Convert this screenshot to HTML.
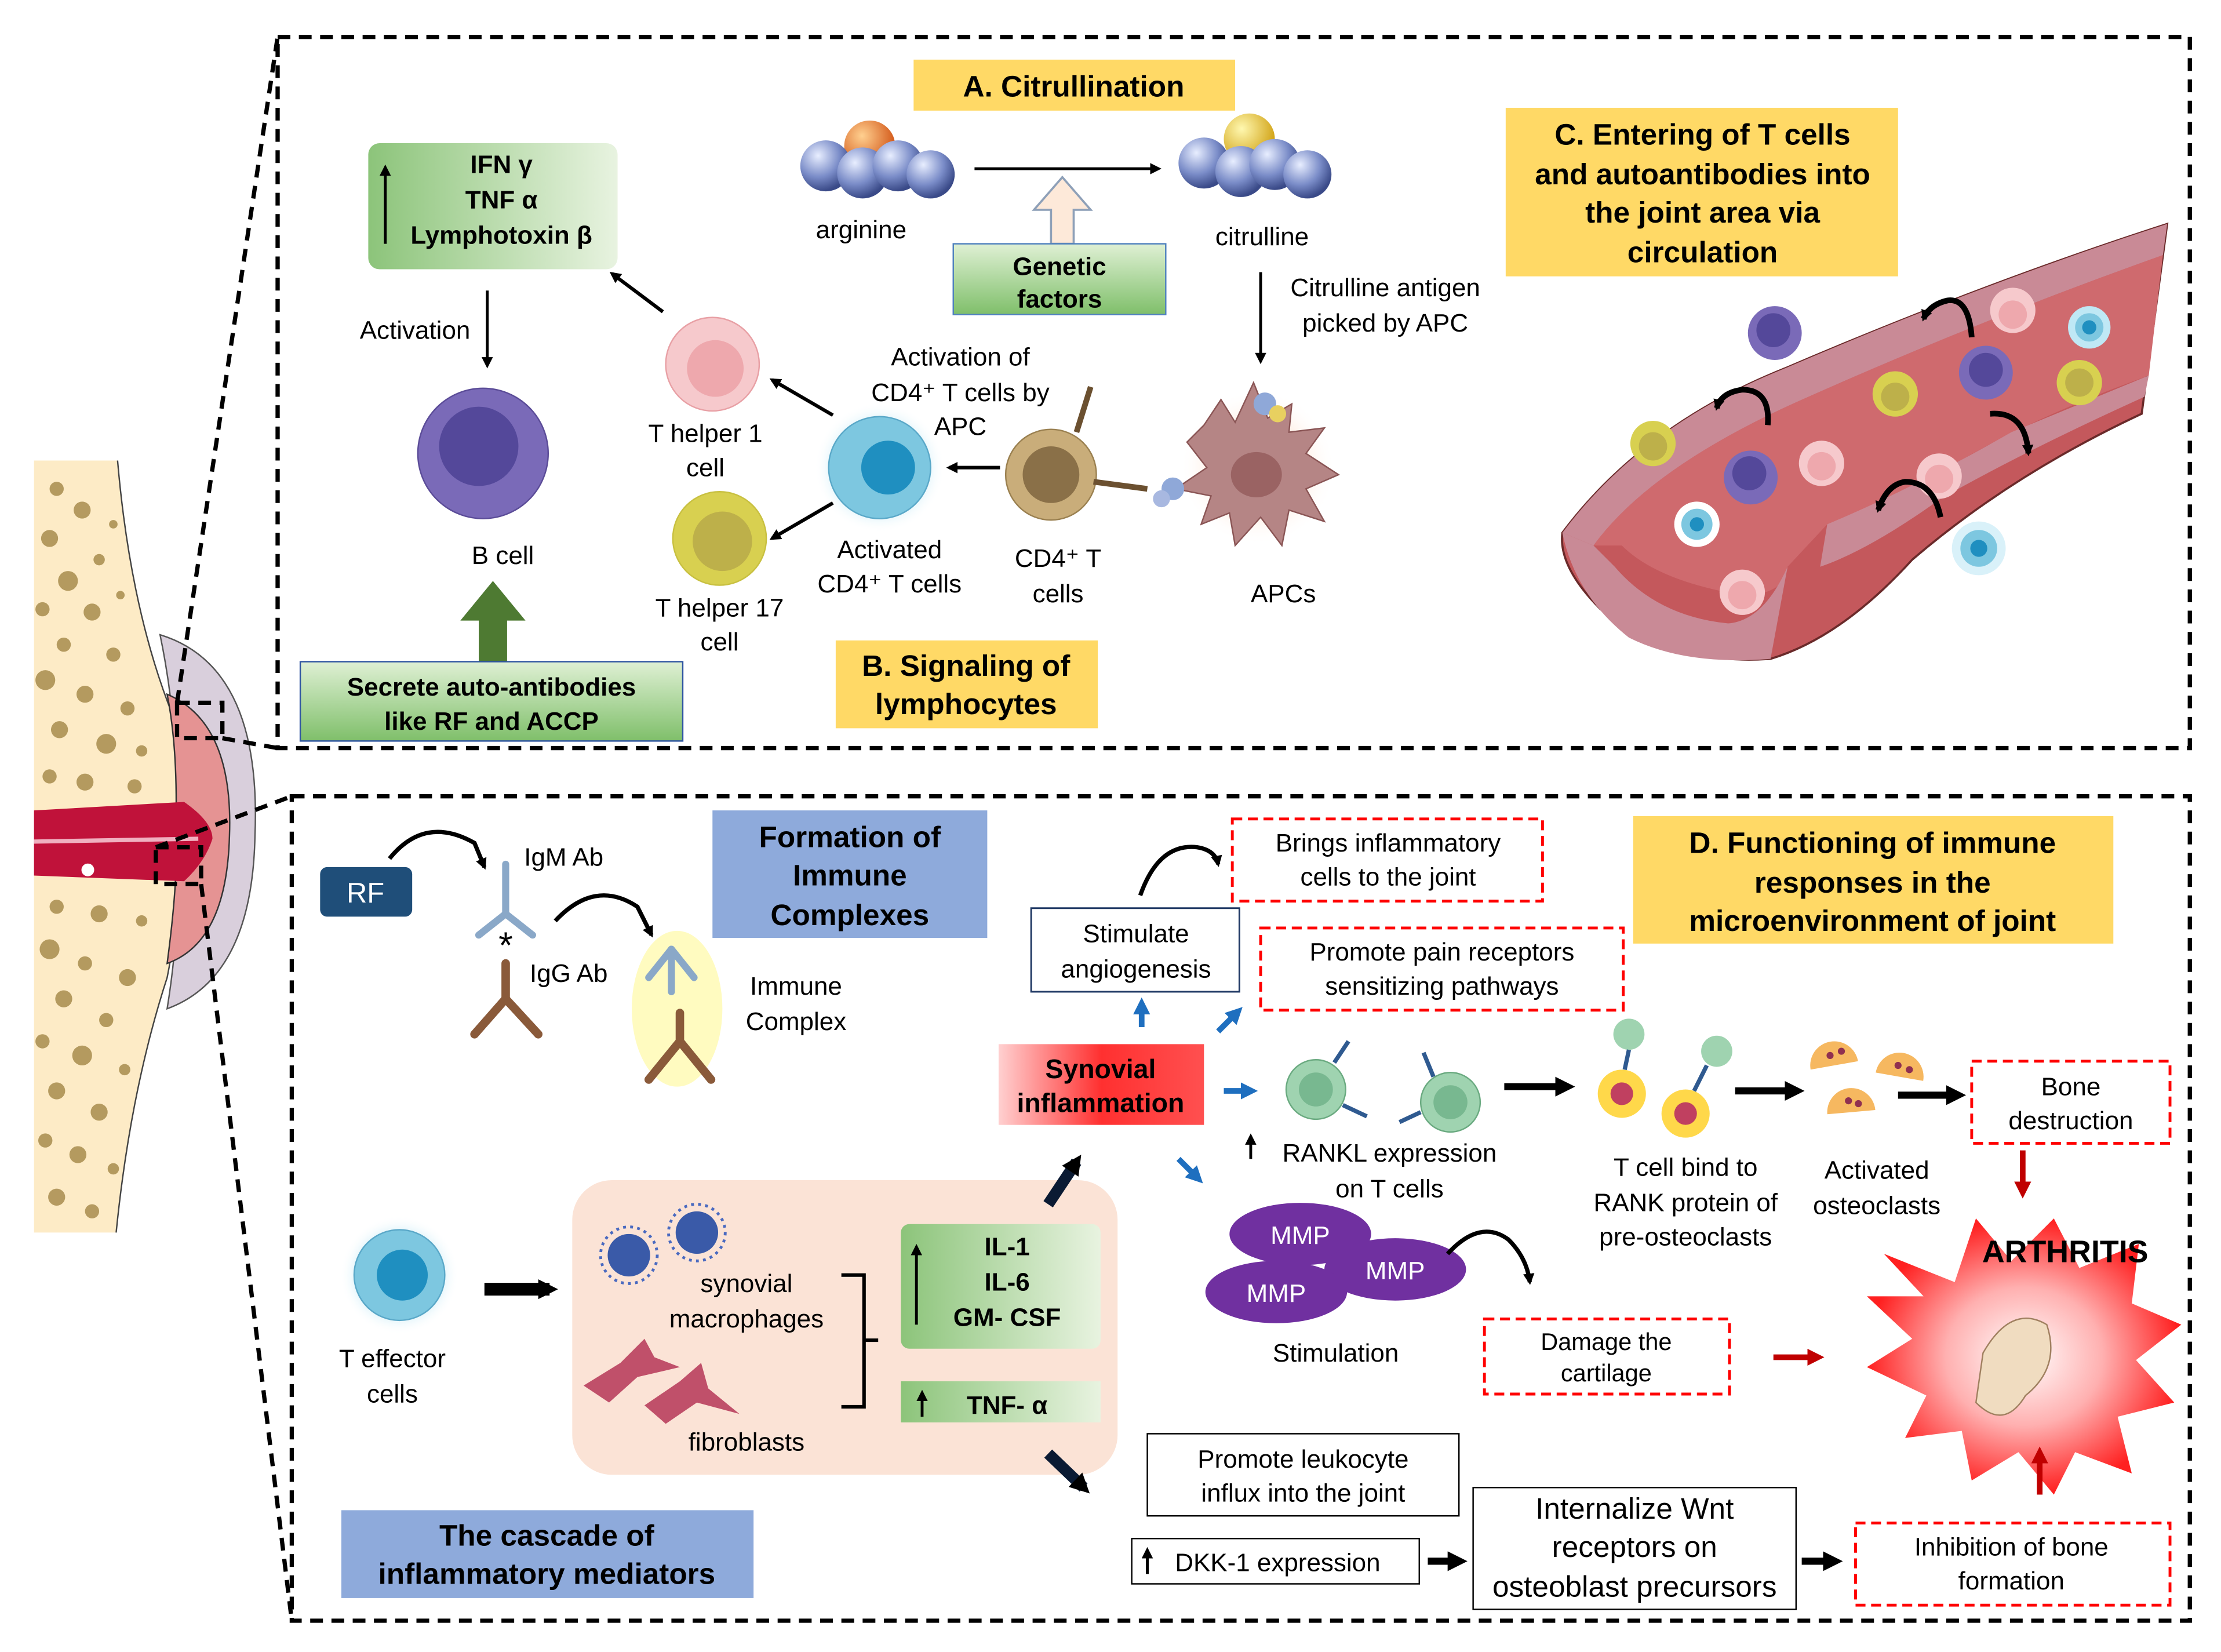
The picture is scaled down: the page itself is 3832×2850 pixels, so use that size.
<!DOCTYPE html>
<html><head><meta charset="utf-8"><style>
html,body{margin:0;padding:0;background:#fff;}
svg{display:block;}
text{font-family:"Liberation Sans",Arial,sans-serif;}
</style></head><body>
<svg width="3832" height="2850" viewBox="0 0 1568 1166" xmlns="http://www.w3.org/2000/svg">
<defs>
<linearGradient id="gg" x1="0" y1="0" x2="1" y2="0"><stop offset="0" stop-color="#8cc47a"/><stop offset="1" stop-color="#e8f3e0"/></linearGradient>
<linearGradient id="gv" x1="0" y1="1" x2="0" y2="0"><stop offset="0" stop-color="#7fbf6a"/><stop offset="1" stop-color="#dff0d4"/></linearGradient>
<linearGradient id="rg" x1="0" y1="0" x2="1" y2="0"><stop offset="0" stop-color="#ffd0d0"/><stop offset="0.5" stop-color="#ff3030"/><stop offset="1" stop-color="#ff5050"/></linearGradient>
<radialGradient id="star" cx="0.5" cy="0.5" r="0.5"><stop offset="0" stop-color="#fff"/><stop offset="0.5" stop-color="#ffb0b0"/><stop offset="1" stop-color="#ff2020"/></radialGradient>
<radialGradient id="ball" cx="0.35" cy="0.3" r="0.7"><stop offset="0" stop-color="#e8eeff"/><stop offset="0.6" stop-color="#7a8cc8"/><stop offset="1" stop-color="#3a4a88"/></radialGradient>
<radialGradient id="ballo" cx="0.35" cy="0.3" r="0.7"><stop offset="0" stop-color="#ffd090"/><stop offset="1" stop-color="#d05010"/></radialGradient>
<radialGradient id="bally" cx="0.35" cy="0.3" r="0.7"><stop offset="0" stop-color="#fff8b0"/><stop offset="1" stop-color="#d0a010"/></radialGradient>
<radialGradient id="glowb" cx="0.5" cy="0.5" r="0.5"><stop offset="0.6" stop-color="#bfe8f5"/><stop offset="1" stop-color="#ffffff" stop-opacity="0"/></radialGradient>
<radialGradient id="glowo" cx="0.5" cy="0.5" r="0.5"><stop offset="0.3" stop-color="#ffb080"/><stop offset="1" stop-color="#ffffff" stop-opacity="0"/></radialGradient>
<marker id="ah" markerWidth="8" markerHeight="8" refX="6" refY="4" orient="auto" markerUnits="userSpaceOnUse"><path d="M0,0 L8,4 L0,8 z" fill="#000"/></marker>
<marker id="ahb" markerWidth="14" markerHeight="14" refX="8" refY="7" orient="auto" markerUnits="userSpaceOnUse"><path d="M0,0 L14,7 L0,14 z" fill="#000"/></marker>
<marker id="ahbl" markerWidth="12" markerHeight="12" refX="6" refY="6" orient="auto" markerUnits="userSpaceOnUse"><path d="M0,0 L12,6 L0,12 z" fill="#1f6fbf"/></marker>
<marker id="ahr" markerWidth="12" markerHeight="12" refX="6" refY="6" orient="auto" markerUnits="userSpaceOnUse"><path d="M0,0 L12,6 L0,12 z" fill="#c00000"/></marker>
</defs>

<!-- Bone -->
<g>
<path d="M24,325 L83,325 Q92,430 122,505 Q130,545 124,570 L24,575 Z" fill="#fdebc6"/>
<path d="M83,325 Q92,430 122,505 Q130,545 124,570" fill="none" stroke="#444" stroke-width="1"/>
<path d="M24,870 L82,870 Q92,770 118,690 Q126,650 124,622 L24,615 Z" fill="#fdebc6"/>
<path d="M82,870 Q92,770 118,690 Q126,650 124,622" fill="none" stroke="#444" stroke-width="1"/>
<path d="M113,448 Q185,470 180,590 Q178,690 118,712 Q128,650 124,600 Q128,520 113,448Z" fill="#d9cfdc" stroke="#555" stroke-width="1"/>
<path d="M118,490 Q165,510 162,590 Q160,665 118,680 Q126,620 124,590 Q126,530 118,490Z" fill="#e59393" stroke="#333" stroke-width="1"/>
<path d="M24,572 L130,566 Q150,580 150,592 Q145,608 130,622 L24,618 Z" fill="#c0123a"/>
<path d="M24,594 L140,592" stroke="#f0b0c0" stroke-width="3"/>
<circle cx="62" cy="614" r="5" fill="#fff" stroke="#c0123a"/>
<g fill="#a88c4e" opacity="0.85">
<circle cx="40" cy="345" r="5"/><circle cx="58" cy="360" r="6"/><circle cx="35" cy="380" r="6"/><circle cx="70" cy="395" r="4"/><circle cx="48" cy="410" r="7"/><circle cx="30" cy="430" r="5"/><circle cx="65" cy="432" r="6"/><circle cx="45" cy="455" r="5"/><circle cx="80" cy="462" r="5"/><circle cx="32" cy="480" r="7"/><circle cx="60" cy="490" r="6"/><circle cx="90" cy="500" r="5"/><circle cx="42" cy="515" r="6"/><circle cx="75" cy="525" r="7"/><circle cx="100" cy="530" r="4"/><circle cx="35" cy="548" r="5"/><circle cx="60" cy="552" r="6"/><circle cx="95" cy="555" r="5"/><circle cx="80" cy="370" r="3"/><circle cx="85" cy="420" r="3"/>
<circle cx="40" cy="640" r="5"/><circle cx="70" cy="645" r="6"/><circle cx="100" cy="650" r="4"/><circle cx="35" cy="670" r="7"/><circle cx="60" cy="680" r="5"/><circle cx="90" cy="690" r="6"/><circle cx="45" cy="705" r="6"/><circle cx="75" cy="720" r="5"/><circle cx="30" cy="735" r="5"/><circle cx="58" cy="745" r="7"/><circle cx="88" cy="755" r="4"/><circle cx="40" cy="770" r="6"/><circle cx="70" cy="785" r="6"/><circle cx="32" cy="805" r="5"/><circle cx="55" cy="815" r="6"/><circle cx="80" cy="825" r="4"/><circle cx="40" cy="845" r="6"/><circle cx="65" cy="855" r="5"/>
</g>
</g>
<!-- zoom boxes & lines -->
<g fill="none" stroke="#000" stroke-width="3" stroke-dasharray="9,6">
<rect x="125" y="496" width="32" height="25"/>
<rect x="110" y="598" width="32" height="26"/>
<line x1="125" y1="496" x2="196" y2="26"/>
<line x1="157" y1="521" x2="196" y2="528"/>
<line x1="110" y1="598" x2="206" y2="562"/>
<line x1="142" y1="624" x2="206" y2="1144"/>
<rect x="196" y="26" width="1350" height="502"/>
<rect x="206" y="562" width="1340" height="582"/>
</g>

<!-- ===== TOP PANEL ===== -->
<rect x="645" y="42" width="227" height="36" fill="#ffd966"/>
<text x="758" y="68" font-size="21" font-weight="bold" text-anchor="middle">A. Citrullination</text>

<!-- arginine -->
<circle cx="614" cy="103" r="18" fill="url(#ballo)"/>
<circle cx="583" cy="117" r="18" fill="url(#ball)"/><circle cx="609" cy="122" r="18" fill="url(#ball)"/><circle cx="634" cy="117" r="18" fill="url(#ball)"/><circle cx="657" cy="123" r="17" fill="url(#ball)"/>
<text x="608" y="168" font-size="18" text-anchor="middle">arginine</text>
<circle cx="882" cy="98" r="18" fill="url(#bally)"/>
<circle cx="850" cy="115" r="18" fill="url(#ball)"/><circle cx="876" cy="121" r="18" fill="url(#ball)"/><circle cx="900" cy="116" r="18" fill="url(#ball)"/><circle cx="923" cy="123" r="17" fill="url(#ball)"/>
<text x="891" y="173" font-size="18" text-anchor="middle">citrulline</text>
<line x1="688" y1="119" x2="818" y2="119" stroke="#000" stroke-width="2" marker-end="url(#ah)"/>
<path d="M742,172 L742,148 L730,148 L750,125 L770,148 L758,148 L758,172Z" fill="#fde9d9" stroke="#8ea0b8" stroke-width="1.5"/>
<rect x="673" y="172" width="150" height="50" fill="url(#gv)" stroke="#4f81bd" stroke-width="1"/>
<text x="748" y="194" font-size="18" font-weight="bold" text-anchor="middle">Genetic</text>
<text x="748" y="217" font-size="18" font-weight="bold" text-anchor="middle">factors</text>

<line x1="890" y1="192" x2="890" y2="255" stroke="#000" stroke-width="2" marker-end="url(#ah)"/>
<text x="978" y="209" font-size="18" text-anchor="middle">Citrulline antigen</text>
<text x="978" y="234" font-size="18" text-anchor="middle">picked by APC</text>

<!-- APC -->
<circle cx="888" cy="330" r="55" fill="url(#glowo)" opacity="0.6"/>
<path d="M850,300 L862,282 L872,298 L885,270 L895,295 L912,285 L910,305 L935,302 L922,320 L945,335 L922,345 L935,368 L910,360 L905,385 L890,365 L872,385 L868,362 L848,370 L855,350 L830,345 L852,330 L838,312Z" fill="#b58585" stroke="#8a5555"/>
<ellipse cx="887" cy="335" rx="18" ry="16" fill="#9a6363"/>
<text x="906" y="425" font-size="18" text-anchor="middle">APCs</text>
<!-- CD4 T -->
<circle cx="742" cy="335" r="32" fill="#c9ad7a" stroke="#9a8050"/>
<circle cx="742" cy="335" r="20" fill="#8a7048"/>
<line x1="772" y1="340" x2="810" y2="345" stroke="#6b5030" stroke-width="4"/>
<line x1="760" y1="305" x2="770" y2="273" stroke="#6b5030" stroke-width="4"/>
<circle cx="828" cy="345" r="8" fill="#8fa8d8"/><circle cx="820" cy="352" r="6" fill="#a8b8e0"/>
<circle cx="893" cy="285" r="8" fill="#8fa8d8"/><circle cx="902" cy="292" r="6" fill="#e8d060"/>
<text x="747" y="400" font-size="18" text-anchor="middle">CD4⁺ T</text>
<text x="747" y="425" font-size="18" text-anchor="middle">cells</text>
<line x1="706" y1="330" x2="670" y2="330" stroke="#000" stroke-width="2.5" marker-end="url(#ah)"/>
<!-- Activated CD4 -->
<circle cx="621" cy="330" r="46" fill="url(#glowb)"/>
<circle cx="621" cy="330" r="36" fill="#7dc7e0" stroke="#5aa8c8"/>
<circle cx="627" cy="330" r="19" fill="#1f8fc0"/>
<text x="628" y="394" font-size="18" text-anchor="middle">Activated</text>
<text x="628" y="418" font-size="18" text-anchor="middle">CD4⁺ T cells</text>
<text x="678" y="258" font-size="18" text-anchor="middle">Activation  of</text>
<text x="678" y="283" font-size="18" text-anchor="middle">CD4⁺ T cells  by</text>
<text x="678" y="307" font-size="18" text-anchor="middle">APC</text>
<line x1="588" y1="293" x2="545" y2="268" stroke="#000" stroke-width="2.5" marker-end="url(#ah)"/>
<line x1="588" y1="355" x2="545" y2="380" stroke="#000" stroke-width="2.5" marker-end="url(#ah)"/>
<!-- Th1 -->
<circle cx="503" cy="257" r="33" fill="#f6c9cc" stroke="#e8a0a5"/>
<circle cx="505" cy="260" r="20" fill="#eea8ad"/>
<text x="498" y="312" font-size="18" text-anchor="middle">T helper  1</text>
<text x="498" y="336" font-size="18" text-anchor="middle">cell</text>
<!-- Th17 -->
<circle cx="508" cy="380" r="33" fill="#d8d050" stroke="#c8c040"/>
<circle cx="510" cy="382" r="21" fill="#bdb04a"/>
<text x="508" y="435" font-size="18" text-anchor="middle">T helper  17</text>
<text x="508" y="459" font-size="18" text-anchor="middle">cell</text>
<line x1="468" y1="220" x2="432" y2="193" stroke="#000" stroke-width="2.5" marker-end="url(#ah)"/>
<!-- IFN box -->
<rect x="260" y="101" width="176" height="89" rx="8" fill="url(#gg)"/>
<line x1="272" y1="172" x2="272" y2="118" stroke="#000" stroke-width="2" marker-end="url(#ah)"/>
<text x="354" y="122" font-size="18" font-weight="bold" text-anchor="middle">IFN γ</text>
<text x="354" y="147" font-size="18" font-weight="bold" text-anchor="middle">TNF α</text>
<text x="354" y="172" font-size="18" font-weight="bold" text-anchor="middle">Lymphotoxin β</text>
<line x1="344" y1="205" x2="344" y2="258" stroke="#000" stroke-width="2" marker-end="url(#ah)"/>
<text x="293" y="239" font-size="18" text-anchor="middle">Activation</text>
<!-- B cell -->
<circle cx="341" cy="320" r="46" fill="#7a6ab8" stroke="#5b4c98"/>
<circle cx="338" cy="315" r="28" fill="#54489a"/>
<text x="355" y="398" font-size="18" text-anchor="middle">B cell</text>
<path d="M338,467 L338,438 L325,438 L348,410 L371,438 L358,438 L358,467Z" fill="#4e7a32"/>
<rect x="212" y="467" width="270" height="56" fill="url(#gv)" stroke="#2f55a0" stroke-width="1"/>
<text x="347" y="491" font-size="18" font-weight="bold" text-anchor="middle">Secrete auto-antibodies</text>
<text x="347" y="515" font-size="18" font-weight="bold" text-anchor="middle">like RF and ACCP</text>
<rect x="590" y="452" width="185" height="62" fill="#ffd966"/>
<text x="682" y="477" font-size="21" font-weight="bold" text-anchor="middle">B. Signaling of</text>
<text x="682" y="504" font-size="21" font-weight="bold" text-anchor="middle">lymphocytes</text>

<!-- C box -->
<rect x="1063" y="76" width="277" height="119" fill="#ffd966"/>
<text x="1202" y="102" font-size="21" font-weight="bold" text-anchor="middle">C. Entering of T cells</text>
<text x="1202" y="130" font-size="21" font-weight="bold" text-anchor="middle">and autoantibodies into</text>
<text x="1202" y="157" font-size="21" font-weight="bold" text-anchor="middle">the joint area via</text>
<text x="1202" y="185" font-size="21" font-weight="bold" text-anchor="middle">circulation</text>

<!-- vessel -->
<path d="M1530,158 L1512,292 Q1420,335 1350,395 Q1300,450 1250,465 Q1180,470 1130,430 Q1100,400 1103,376 Q1160,300 1260,260 Q1400,200 1530,158Z" fill="#c4585c" stroke="#6a2a2a" stroke-width="1.5"/>
<path d="M1103,376 Q1160,300 1260,260 Q1400,200 1530,158 L1527,180 Q1400,225 1270,283 Q1165,330 1125,385Z" fill="#c98a96"/>
<path d="M1125,385 Q1165,330 1270,283 Q1400,225 1527,180 L1517,265 Q1420,300 1360,340 Q1320,365 1290,370 L1262,400 Q1260,420 1230,420 Q1170,410 1145,385Z" fill="#cf6a6e"/>
<path d="M1290,370 Q1350,345 1420,305 L1517,265 L1514,280 Q1430,318 1370,352 Q1320,388 1285,400Z" fill="#c98a96"/>
<path d="M1103,376 Q1112,420 1150,450 Q1190,470 1250,465 L1262,400 Q1245,438 1220,440 Q1170,435 1140,400 L1125,385Z" fill="#c98a96"/>
<g>
<circle cx="1253" cy="235" r="19" fill="#7a6ab8"/><circle cx="1252" cy="233" r="12" fill="#54489a"/>
<circle cx="1421" cy="219" r="16" fill="#f6c9cc"/><circle cx="1421" cy="222" r="10" fill="#eea8ad"/>
<circle cx="1475" cy="231" r="15" fill="#bfe8f5"/><circle cx="1475" cy="231" r="10" fill="#7dc7e0"/><circle cx="1475" cy="231" r="5" fill="#1f8fc0"/>
<circle cx="1402" cy="263" r="19" fill="#7a6ab8"/><circle cx="1402" cy="261" r="12" fill="#54489a"/>
<circle cx="1338" cy="278" r="16" fill="#d8d050"/><circle cx="1338" cy="280" r="10" fill="#bdb04a"/>
<circle cx="1468" cy="270" r="16" fill="#d8d050"/><circle cx="1468" cy="270" r="10" fill="#bdb04a"/>
<circle cx="1167" cy="313" r="16" fill="#d8d050"/><circle cx="1167" cy="315" r="10" fill="#bdb04a"/>
<circle cx="1236" cy="337" r="19" fill="#7a6ab8"/><circle cx="1235" cy="334" r="12" fill="#54489a"/>
<circle cx="1286" cy="327" r="16" fill="#f6c9cc"/><circle cx="1286" cy="329" r="10" fill="#eea8ad"/>
<circle cx="1369" cy="336" r="16" fill="#f6c9cc"/><circle cx="1369" cy="338" r="10" fill="#eea8ad"/>
<circle cx="1198" cy="370" r="16" fill="#fff"/><circle cx="1198" cy="370" r="11" fill="#7dc7e0"/><circle cx="1198" cy="370" r="5" fill="#1f8fc0"/>
<circle cx="1230" cy="418" r="16" fill="#f6c9cc"/><circle cx="1230" cy="420" r="10" fill="#eea8ad"/>
<circle cx="1397" cy="387" r="19" fill="#bfe8f5" opacity="0.6"/><circle cx="1397" cy="387" r="13" fill="#7dc7e0"/><circle cx="1397" cy="387" r="6" fill="#1f8fc0"/>
</g>
<g fill="none" stroke="#000" stroke-width="4">
<path d="M1248,300 Q1250,275 1230,275 Q1215,277 1212,288" marker-end="url(#ah)"/>
<path d="M1392,238 Q1390,210 1375,212 Q1362,215 1358,225" marker-end="url(#ah)"/>
<path d="M1370,365 Q1365,340 1345,340 Q1332,342 1326,360" marker-end="url(#ah)"/>
<path d="M1405,292 Q1430,290 1432,320" marker-end="url(#ah)"/>
</g>

<!-- ===== BOTTOM PANEL ===== -->
<rect x="226" y="612" width="65" height="35" rx="5" fill="#1f4e79"/>
<text x="258" y="637" font-size="20" fill="#fff" text-anchor="middle">RF</text>
<path d="M275,606 Q300,575 335,595 L342,612" fill="none" stroke="#000" stroke-width="3" marker-end="url(#ah)"/>
<path d="M392,650 Q420,620 450,640 L460,660" fill="none" stroke="#000" stroke-width="3" marker-end="url(#ah)"/>
<text x="370" y="611" font-size="18">IgM Ab</text>
<text x="374" y="693" font-size="18">IgG Ab</text>
<!-- antibodies -->
<g stroke-linecap="round">
<line x1="357" y1="610" x2="357" y2="645" stroke="#8aa8c8" stroke-width="5"/>
<line x1="357" y1="645" x2="338" y2="660" stroke="#8aa8c8" stroke-width="5"/><line x1="357" y1="645" x2="376" y2="660" stroke="#8aa8c8" stroke-width="5"/>
<line x1="357" y1="680" x2="357" y2="705" stroke="#8a5a3a" stroke-width="6"/>
<line x1="357" y1="705" x2="335" y2="730" stroke="#8a5a3a" stroke-width="6"/><line x1="357" y1="705" x2="380" y2="730" stroke="#8a5a3a" stroke-width="6"/>
</g>
<text x="357" y="676" font-size="26" text-anchor="middle">*</text>
<ellipse cx="478" cy="712" rx="32" ry="55" fill="#fffab0" opacity="0.8"/>
<g stroke-linecap="round">
<line x1="474" y1="670" x2="474" y2="700" stroke="#8aa8c8" stroke-width="5"/>
<line x1="474" y1="670" x2="458" y2="690" stroke="#8aa8c8" stroke-width="5"/><line x1="474" y1="670" x2="490" y2="690" stroke="#8aa8c8" stroke-width="5"/>
<line x1="480" y1="715" x2="480" y2="735" stroke="#8a5a3a" stroke-width="6"/>
<line x1="480" y1="735" x2="458" y2="762" stroke="#8a5a3a" stroke-width="6"/><line x1="480" y1="735" x2="502" y2="762" stroke="#8a5a3a" stroke-width="6"/>
</g>
<text x="562" y="702" font-size="18" text-anchor="middle">Immune</text>
<text x="562" y="727" font-size="18" text-anchor="middle">Complex</text>
<rect x="503" y="572" width="194" height="90" fill="#8eaadb"/>
<text x="600" y="598" font-size="21" font-weight="bold" text-anchor="middle">Formation of</text>
<text x="600" y="625" font-size="21" font-weight="bold" text-anchor="middle">Immune</text>
<text x="600" y="653" font-size="21" font-weight="bold" text-anchor="middle">Complexes</text>

<!-- T effector -->
<circle cx="282" cy="900" r="42" fill="url(#glowb)"/>
<circle cx="282" cy="900" r="32" fill="#7dc7e0" stroke="#5aa8c8"/>
<circle cx="284" cy="900" r="18" fill="#1f8fc0"/>
<text x="277" y="965" font-size="18" text-anchor="middle">T effector</text>
<text x="277" y="990" font-size="18" text-anchor="middle">cells</text>
<line x1="342" y1="910" x2="388" y2="910" stroke="#000" stroke-width="9" marker-end="url(#ahb)"/>
<rect x="404" y="833" width="385" height="208" rx="28" fill="#fbe3d6"/>
<g fill="#3a5aa8"><circle cx="444" cy="886" r="15"/><circle cx="492" cy="870" r="15"/></g>
<g fill="none" stroke="#4a6ac0" stroke-width="2"><circle cx="444" cy="886" r="20" stroke-dasharray="2,3"/><circle cx="492" cy="870" r="20" stroke-dasharray="2,3"/></g>
<path d="M412,978 L438,962 L455,945 L462,958 L480,965 L450,972 L430,990Z" fill="#c0506a"/>
<path d="M455,992 L480,975 L495,962 L500,980 L522,998 L492,990 L470,1005Z" fill="#c0506a"/>
<text x="527" y="912" font-size="18" text-anchor="middle">synovial</text>
<text x="527" y="937" font-size="18" text-anchor="middle">macrophages</text>
<text x="527" y="1024" font-size="18" text-anchor="middle">fibroblasts</text>
<path d="M594,900 L610,900 L610,993 L594,993 M610,946 L620,946" fill="none" stroke="#000" stroke-width="2.5"/>
<rect x="636" y="864" width="141" height="88" rx="6" fill="url(#gg)"/>
<line x1="647" y1="935" x2="647" y2="880" stroke="#000" stroke-width="2" marker-end="url(#ah)"/>
<text x="711" y="886" font-size="18" font-weight="bold" text-anchor="middle">IL-1</text>
<text x="711" y="911" font-size="18" font-weight="bold" text-anchor="middle">IL-6</text>
<text x="711" y="936" font-size="18" font-weight="bold" text-anchor="middle">GM- CSF</text>
<rect x="636" y="975" width="141" height="29" fill="url(#gg)"/>
<line x1="651" y1="1000" x2="651" y2="983" stroke="#000" stroke-width="2" marker-end="url(#ah)"/>
<text x="711" y="998" font-size="18" font-weight="bold" text-anchor="middle">TNF- α</text>
<line x1="740" y1="850" x2="760" y2="820" stroke="#0a1a33" stroke-width="8" marker-end="url(#ahb)"/>
<line x1="740" y1="1026" x2="765" y2="1050" stroke="#0a1a33" stroke-width="8" marker-end="url(#ahb)"/>
<rect x="241" y="1066" width="291" height="62" fill="#8eaadb"/>
<text x="386" y="1091" font-size="21" font-weight="bold" text-anchor="middle">The cascade of</text>
<text x="386" y="1118" font-size="21" font-weight="bold" text-anchor="middle">inflammatory mediators</text>

<!-- synovial inflammation -->
<rect x="705" y="737" width="145" height="57" fill="url(#rg)"/>
<text x="777" y="761" font-size="19" font-weight="bold" text-anchor="middle">Synovial</text>
<text x="777" y="785" font-size="19" font-weight="bold" text-anchor="middle">inflammation</text>
<line x1="806" y1="725" x2="806" y2="710" stroke="#1f6fbf" stroke-width="4" marker-end="url(#ahbl)"/>
<line x1="860" y1="728" x2="873" y2="715" stroke="#1f6fbf" stroke-width="4" marker-end="url(#ahbl)"/>
<line x1="864" y1="770" x2="882" y2="770" stroke="#1f6fbf" stroke-width="4" marker-end="url(#ahbl)"/>
<line x1="832" y1="818" x2="845" y2="831" stroke="#1f6fbf" stroke-width="4" marker-end="url(#ahbl)"/>
<rect x="728" y="641" width="147" height="59" fill="#fff" stroke="#1f3864" stroke-width="1.2"/>
<text x="802" y="665" font-size="18" text-anchor="middle">Stimulate</text>
<text x="802" y="690" font-size="18" text-anchor="middle">angiogenesis</text>
<path d="M805,632 Q818,595 845,598 Q858,600 860,610" fill="none" stroke="#000" stroke-width="3" marker-end="url(#ah)"/>
<g fill="none" stroke="#ff0000" stroke-width="2" stroke-dasharray="7,4">
<rect x="870" y="578" width="219" height="58"/>
<rect x="890" y="655" width="256" height="58"/>
<rect x="1392" y="749" width="140" height="58"/>
<rect x="1048" y="931" width="173" height="53"/>
<rect x="1310" y="1075" width="222" height="58"/>
</g>
<text x="980" y="601" font-size="18" text-anchor="middle">Brings inflammatory</text>
<text x="980" y="625" font-size="18" text-anchor="middle">cells to the joint</text>
<text x="1018" y="678" font-size="18" text-anchor="middle">Promote pain receptors</text>
<text x="1018" y="702" font-size="18" text-anchor="middle">sensitizing pathways</text>
<rect x="1153" y="576" width="339" height="90" fill="#ffd966"/>
<text x="1322" y="602" font-size="21" font-weight="bold" text-anchor="middle">D. Functioning of immune</text>
<text x="1322" y="630" font-size="21" font-weight="bold" text-anchor="middle">responses in the</text>
<text x="1322" y="657" font-size="21" font-weight="bold" text-anchor="middle">microenvironment of joint</text>

<!-- RANKL T cells -->
<circle cx="929" cy="769" r="21" fill="#9fd3b0" stroke="#6aaa80"/><circle cx="929" cy="769" r="12" fill="#78b890"/>
<line x1="942" y1="750" x2="952" y2="735" stroke="#2f5a90" stroke-width="3"/><line x1="948" y1="780" x2="965" y2="788" stroke="#2f5a90" stroke-width="3"/>
<circle cx="1024" cy="778" r="21" fill="#9fd3b0" stroke="#6aaa80"/><circle cx="1024" cy="778" r="12" fill="#78b890"/>
<line x1="1012" y1="760" x2="1005" y2="743" stroke="#2f5a90" stroke-width="3"/><line x1="1003" y1="785" x2="988" y2="792" stroke="#2f5a90" stroke-width="3"/>
<line x1="883" y1="818" x2="883" y2="802" stroke="#000" stroke-width="2" marker-end="url(#ah)"/>
<text x="981" y="820" font-size="18" text-anchor="middle">RANKL expression</text>
<text x="981" y="845" font-size="18" text-anchor="middle">on T cells</text>
<line x1="1062" y1="767" x2="1106" y2="767" stroke="#000" stroke-width="5" marker-end="url(#ahb)"/>
<!-- T cell bind -->
<circle cx="1150" cy="730" r="11" fill="#9fd3b0"/><circle cx="1212" cy="742" r="11" fill="#9fd3b0"/>
<circle cx="1145" cy="772" r="17" fill="#ffd84a"/><circle cx="1190" cy="786" r="17" fill="#ffd84a"/>
<circle cx="1145" cy="772" r="8" fill="#c04060"/><circle cx="1190" cy="786" r="8" fill="#c04060"/>
<line x1="1150" y1="741" x2="1147" y2="755" stroke="#2f5a90" stroke-width="3"/><line x1="1205" y1="752" x2="1196" y2="770" stroke="#2f5a90" stroke-width="3"/>
<text x="1190" y="830" font-size="18" text-anchor="middle">T cell bind to</text>
<text x="1190" y="855" font-size="18" text-anchor="middle">RANK protein of</text>
<text x="1190" y="879" font-size="18" text-anchor="middle">pre-osteoclasts</text>
<line x1="1225" y1="770" x2="1268" y2="770" stroke="#000" stroke-width="5" marker-end="url(#ahb)"/>
<!-- osteoclasts -->
<path d="M1278,752 A17,17 0 0 1 1312,752 Z" fill="#f6b860" transform="rotate(-10 1295 752)"/>
<path d="M1324,760 A17,17 0 0 1 1358,760 Z" fill="#f6b860" transform="rotate(10 1341 760)"/>
<path d="M1290,785 A17,17 0 0 1 1324,785 Z" fill="#f6b860" transform="rotate(-5 1307 785)"/>
<g fill="#903050"><circle cx="1292" cy="745" r="2.5"/><circle cx="1300" cy="742" r="2.5"/><circle cx="1340" cy="752" r="2.5"/><circle cx="1348" cy="755" r="2.5"/><circle cx="1305" cy="777" r="2.5"/><circle cx="1312" cy="779" r="2.5"/></g>
<text x="1325" y="832" font-size="18" text-anchor="middle">Activated</text>
<text x="1325" y="857" font-size="18" text-anchor="middle">osteoclasts</text>
<line x1="1340" y1="773" x2="1382" y2="773" stroke="#000" stroke-width="5" marker-end="url(#ahb)"/>
<text x="1462" y="773" font-size="18" text-anchor="middle">Bone</text>
<text x="1462" y="797" font-size="18" text-anchor="middle">destruction</text>
<line x1="1428" y1="812" x2="1428" y2="840" stroke="#c00000" stroke-width="4" marker-end="url(#ahr)"/>

<!-- MMP -->
<ellipse cx="918" cy="871" rx="50" ry="22" fill="#7030a0"/>
<ellipse cx="985" cy="896" rx="50" ry="22" fill="#7030a0"/>
<ellipse cx="901" cy="912" rx="50" ry="22" fill="#7030a0"/>
<text x="918" y="878" font-size="18" fill="#fff" text-anchor="middle">MMP</text>
<text x="985" y="903" font-size="18" fill="#fff" text-anchor="middle">MMP</text>
<text x="901" y="919" font-size="18" fill="#fff" text-anchor="middle">MMP</text>
<text x="943" y="961" font-size="18" text-anchor="middle">Stimulation</text>
<path d="M1022,885 Q1045,860 1065,875 Q1078,888 1080,905" fill="none" stroke="#000" stroke-width="3" marker-end="url(#ah)"/>
<text x="1134" y="953" font-size="17" text-anchor="middle">Damage the</text>
<text x="1134" y="975" font-size="17" text-anchor="middle">cartilage</text>
<line x1="1252" y1="958" x2="1282" y2="958" stroke="#c00000" stroke-width="4" marker-end="url(#ahr)"/>

<!-- ARTHRITIS starburst -->
<path d="M1330,885 L1380,905 L1395,860 L1420,890 L1450,860 L1468,895 L1510,878 L1505,920 L1540,935 L1508,960 L1535,990 L1495,1000 L1505,1040 L1465,1025 L1450,1055 L1425,1025 L1392,1045 L1385,1010 L1345,1015 L1360,985 L1318,965 L1350,945 L1318,915 L1358,915Z" fill="url(#star)"/>
<path d="M1400,955 Q1420,920 1445,935 Q1455,965 1430,985 Q1415,1010 1395,990Z" fill="#f0dcc0" stroke="#a08060" stroke-width="1"/>
<text x="1458" y="891" font-size="22" font-weight="bold" text-anchor="middle">ARTHRITIS</text>
<line x1="1440" y1="1055" x2="1440" y2="1027" stroke="#c00000" stroke-width="4" marker-end="url(#ahr)"/>

<!-- bottom boxes -->
<rect x="810" y="1012" width="220" height="58" fill="#fff" stroke="#000" stroke-width="1"/>
<text x="920" y="1036" font-size="18" text-anchor="middle">Promote leukocyte</text>
<text x="920" y="1060" font-size="18" text-anchor="middle">influx into the joint</text>
<rect x="799" y="1086" width="203" height="32" fill="#fff" stroke="#000" stroke-width="1"/>
<line x1="810" y1="1111" x2="810" y2="1094" stroke="#000" stroke-width="2" marker-end="url(#ah)"/>
<text x="902" y="1109" font-size="18" text-anchor="middle">DKK-1 expression</text>
<line x1="1008" y1="1102" x2="1030" y2="1102" stroke="#000" stroke-width="5" marker-end="url(#ahb)"/>
<rect x="1040" y="1050" width="228" height="86" fill="#fff" stroke="#000" stroke-width="1"/>
<text x="1154" y="1072" font-size="21" text-anchor="middle">Internalize Wnt</text>
<text x="1154" y="1099" font-size="21" text-anchor="middle">receptors on</text>
<text x="1154" y="1127" font-size="21" text-anchor="middle">osteoblast precursors</text>
<line x1="1272" y1="1102" x2="1295" y2="1102" stroke="#000" stroke-width="5" marker-end="url(#ahb)"/>
<text x="1420" y="1098" font-size="18" text-anchor="middle">Inhibition  of bone</text>
<text x="1420" y="1122" font-size="18" text-anchor="middle">formation</text>
</svg>
</body></html>
